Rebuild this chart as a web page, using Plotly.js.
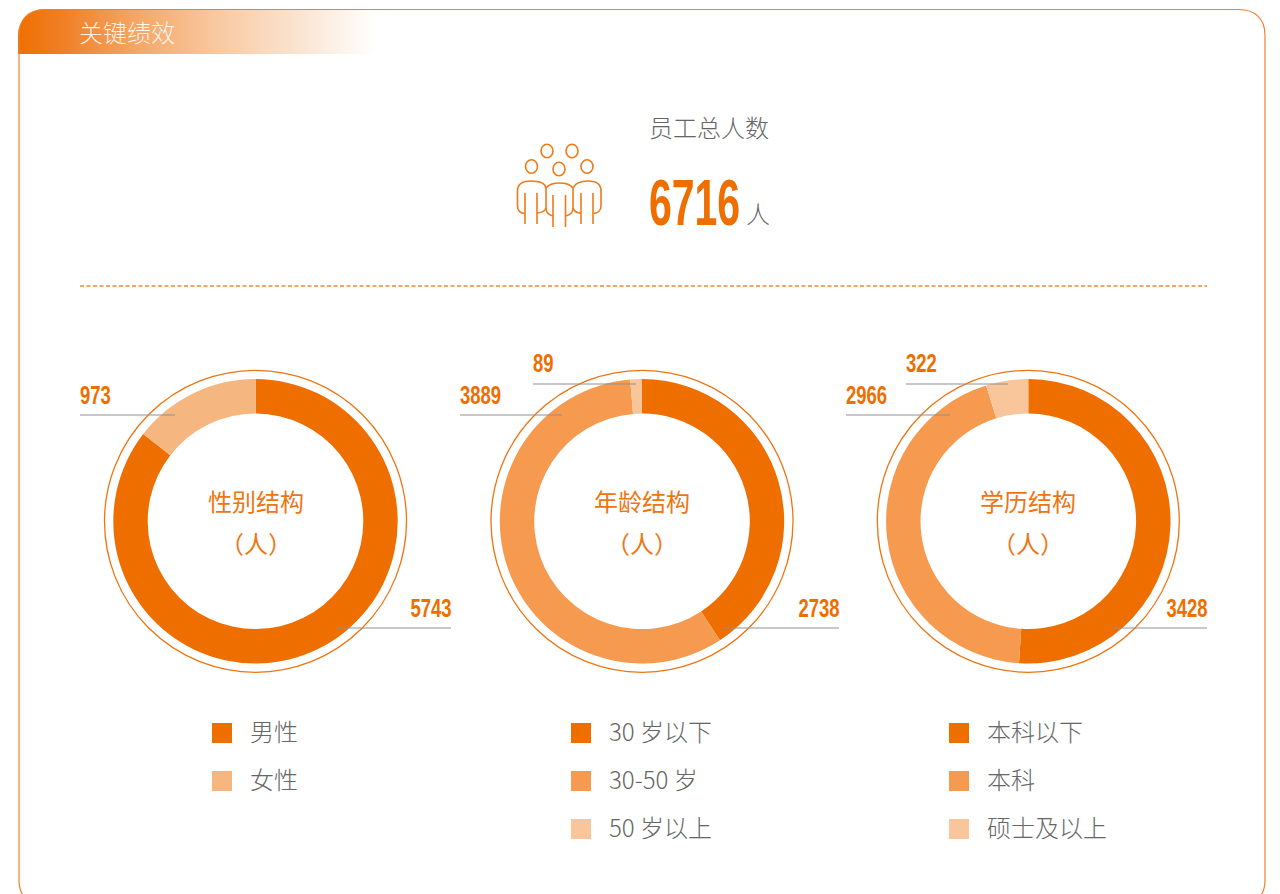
<!DOCTYPE html>
<html><head><meta charset="utf-8">
<script src="https://cdn.plot.ly/plotly-3.0.1.min.js"></script>
<style>
html,body{margin:0;padding:0;background:#fff;width:1280px;height:894px;overflow:hidden}
#hdr{position:absolute;left:18px;top:9px;width:358px;height:45px;border-top-left-radius:26px;
background:linear-gradient(90deg,#ee6f00 0%,#f0822a 14%,#f5a868 34%,#f8c8a0 55%,#fbe6d4 80%,#ffffff 100%)}
#chart{position:absolute;left:0;top:0;width:1280px;height:894px}
</style></head><body>
<div id="hdr"></div><div id="chart"></div>
<script>
// ---- data ----
const genderLabels = ['男性','女性'];
const genderValues = [5743,973];
const ageLabels = ['30 岁以下','30-50 岁','50 岁以上'];
const ageValues = [2738,3889,89];
const eduLabels = ['本科以下','本科','硕士及以上'];
const eduValues = [3428,2966,322];
const chartTitles = ['性别结构','年龄结构','学历结构'];
const unitText = '（人）';
const headerText = '关键绩效';
const totalTitle = '员工总人数';
const totalValue = 6716;
const totalUnit = '人';

const genderColors = ['#ee6f00','#f6b680'];
const tripleColors = ['#ee6f00','#f59a4f','#f9c59a'];

// ---- helpers (pixel to paper) ----
const W=1280,H=894, X=p=>p/W, Y=p=>1-p/H;
const CJK='"Noto Sans CJK SC","Noto Sans",sans-serif';
const NUM='"Liberation Sans","Arial",sans-serif';
const OR='#ee6f00', GREY='#666666';
const path=s=>s.replace(/(-?[\d.]+) (-?[\d.]+)/g,(m,a,b)=>X(+a).toFixed(6)+' '+Y(+b).toFixed(6));

const shapes=[], annotations=[];
const text=(t,x,y,size,color,anchor,font,weight)=>{annotations.push({text:t,x:X(x),y:Y(y),xref:'paper',yref:'paper',
  xanchor:anchor||'left',yanchor:'middle',showarrow:false,font:{size,color,family:font||CJK,weight:weight||300}});return annotations.length-1;};
const line=(x0,y0,x1,y1,color,width,dash)=>shapes.push({type:'line',xref:'paper',yref:'paper',layer:'above',
  x0:X(x0),y0:Y(y0),x1:X(x1),y1:Y(y1),line:{color,width,dash:dash||'solid'}});
const ell=(cx,cy,rx,ry,color,width)=>shapes.push({type:'circle',xref:'paper',yref:'paper',layer:'above',
  x0:X(cx-rx),x1:X(cx+rx),y0:Y(cy+ry),y1:Y(cy-ry),line:{color,width},fillcolor:'rgba(0,0,0,0)'});
const pth=(d,color,width)=>shapes.push({type:'path',xref:'paper',yref:'paper',layer:'above',path:path(d),line:{color,width},fillcolor:'rgba(0,0,0,0)'});

// panel border
pth('M 19 880 L 19 35 C 19 18 30 9.5 45 9.5 L 1239 9.5 C 1254 9.5 1265 18 1265 35 L 1265 880 C 1265 897 1254 906 1239 906 L 45 906 C 30 906 19 897 19 880 Z','#ee8030',1.2);

// header + total
text(headerText,76.5,31.5,24,'rgba(255,255,255,0.88)');
text(totalTitle,647,126,24,GREY);
const squeezes=[];
squeezes.push([text(String(totalValue),647,203,64,OR,'left',NUM,700),0.64,'left center']);
text(totalUnit,743.5,212,24,GREY);

// icon
const IC='#ef7a17', IW=1.6;
[[547,151],[572,151],[531.5,166.5],[587,166.5],[559,169]].forEach(h=>ell(h[0],h[1],6,6.8,IC,IW));
pth('M 524.5 213.5 C 520 213 517.5 210 517.5 206 L 517.5 191 C 517.5 184 522 181 531 181 C 539 181 545 183 546 188',IC,IW);
pth('M 546 188 C 549 184 554 183 559.5 183 C 565 183 570 184 573 188',IC,IW);
pth('M 573 188 C 575 183 581 181 588 181 C 597 181 601 184 601 191 L 601 206 C 601 210 598 213 593.5 213.5',IC,IW);
pth('M 546 188 L 546 208 C 546 212 549 215 553 216',IC,IW);
pth('M 573 188 L 573 208 C 573 212 570 215 565.5 216',IC,IW);
[[525,193,224],[537,193,224],[553,195,227],[565.5,195,227],[581,193,224],[593,193,224]].forEach(l=>line(l[0],l[1],l[0],l[2],IC,IW));
pth('M 537 213 C 541 213 545 211 546 208',IC,IW);
pth('M 581 213 C 577 213 574 211 573 208',IC,IW);

// divider
line(80,286,1207,286,'#f08a35',1.3,'4px,2.5px');

// donuts
const CY=521.3, R=142.2, HOLE=0.758, RING=151;
const centers=[255.5,642,1028.3];
const sets=[[genderLabels,genderValues,genderColors],[ageLabels,ageValues,tripleColors],[eduLabels,eduValues,tripleColors]];
const traces=sets.map((s,i)=>({type:'pie',labels:s[0],values:s[1],sort:false,direction:'clockwise',rotation:0,hole:HOLE,
  textinfo:'none',hoverinfo:'label+value',showlegend:false,automargin:false,
  marker:{colors:s[2],line:{width:0}},
  domain:{x:[X(centers[i]-R),X(centers[i]+R)],y:[Y(CY+R),Y(CY-R)]}}));
centers.forEach((c,i)=>{
  ell(c,CY,RING,RING,'#ee7510',1.3);
  text(chartTitles[i],c,500,24,'#ef7510','center',CJK,400);
  text(unitText,c,542,24,'#ef7510','center',CJK,400);
});

// leader lines + value labels: [series, index, lineX0, lineX1, lineY, labelX, anchor]
const LG='#909090';
const leaders=[
 [genderValues,1,80,175,415,80,'left'],[genderValues,0,337,451,628,451,'right'],
 [ageValues,2,533,636,384,533,'left'],[ageValues,1,460,562,415,460,'left'],[ageValues,0,725,839,628,839,'right'],
 [eduValues,2,906,1008,384,906,'left'],[eduValues,1,846,950,415,846,'left'],[eduValues,0,1113,1207,628,1207,'right']];
leaders.forEach(l=>{
  line(l[2],l[4],l[3],l[4],LG,1);
  const right=l[6]==='right';
  const idx=text(String(l[0][l[1]]),l[5]+(right?3:-2),l[4]-20.5,25,OR,l[6],NUM,700);
  squeezes.push([idx,0.74,right?'right center':'left center']);
});

// legends
[[212,250,genderLabels,genderColors],[571,609,ageLabels,tripleColors],[949,987,eduLabels,tripleColors]].forEach(g=>{
  g[2].forEach((t,i)=>{
    const y=723+48*i;
    shapes.push({type:'rect',xref:'paper',yref:'paper',layer:'above',x0:X(g[0]),x1:X(g[0]+20),y0:Y(y+20),y1:Y(y),fillcolor:g[3][i],line:{width:0}});
    text(t,g[1]-2.5,y+7.5,24,GREY);
  });
});

const gd=document.getElementById('chart');
Plotly.newPlot(gd,traces,{width:W,height:H,margin:{l:0,r:0,t:0,b:0},paper_bgcolor:'rgba(0,0,0,0)',plot_bgcolor:'rgba(0,0,0,0)',
  showlegend:false,shapes,annotations},{displayModeBar:false,staticPlot:true}).then(()=>{
  squeezes.forEach(s=>{const t=gd.querySelector('.annotation[data-index="'+s[0]+'"] text');
    if(t){t.style.transformBox='fill-box';t.style.transformOrigin=s[2];t.style.transform='scaleX('+s[1]+')';}});
});
</script></body></html>
